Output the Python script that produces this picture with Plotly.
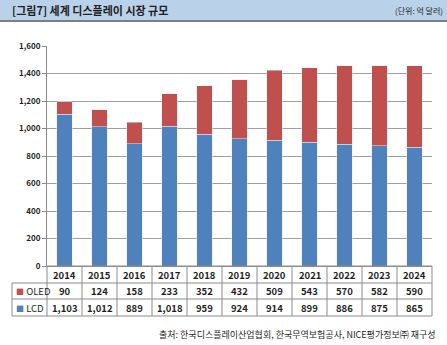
import plotly.graph_objects as go

years = ["2014", "2015", "2016", "2017", "2018", "2019", "2020", "2021", "2022", "2023", "2024"]
lcd = [1103, 1012, 889, 1018, 959, 924, 914, 899, 886, 875, 865]
oled = [90, 124, 158, 233, 352, 432, 509, 543, 570, 582, 590]
y_ticks = [0, 200, 400, 600, 800, 1000, 1200, 1400, 1600]

W, H = 447, 345
ML, MR, MT, MB = 47, 15, 46, 79
PW, PH = W - ML - MR, H - MT - MB
FONT = "Noto Sans CJK KR"
BLUE = "#4f81bd"
RED = "#c0504d"
n = len(years)

def px_x(p):
    return (p - ML) / PW

def px_y(p):
    return 1 - (p - MT) / PH

fig = go.Figure()
fig.add_bar(x=years, y=lcd, name="LCD", marker_color=BLUE, width=0.43)
fig.add_bar(x=years, y=oled, name="OLED", marker_color=RED, width=0.43)

shapes = []
annotations = []

# title bar
shapes.append(dict(type="rect", xref="paper", yref="paper", x0=px_x(0), x1=px_x(W),
                   y0=px_y(20), y1=px_y(0), fillcolor="#bad1ea", line_width=0, layer="below"))
shapes.append(dict(type="line", xref="paper", yref="paper", x0=px_x(0), x1=px_x(W),
                   y0=px_y(21), y1=px_y(21), line=dict(color="#7f7f7f", width=2)))
annotations.append(dict(xref="paper", yref="paper", x=px_x(10), y=px_y(10), xanchor="left", yanchor="middle",
                        text="<b>[그림7] 세계 디스플레이 시장 규모</b>", showarrow=False,
                        font=dict(family=FONT, size=11, color="#1f1f1f")))
annotations.append(dict(xref="paper", yref="paper", x=px_x(445), y=px_y(11), xanchor="right", yanchor="middle",
                        text="(단위: 억 달러)", showarrow=False,
                        font=dict(family=FONT, size=8, color="#1f1f1f")))

# data table (paper coordinates)
row_tops = [266, 283, 299, 316]
LBL_L = 12
tcol = "#8c8c8c"
shapes.append(dict(type="line", xref="paper", yref="paper", x0=0, x1=1,
                   y0=px_y(row_tops[0]), y1=px_y(row_tops[0]), line=dict(color=tcol, width=1)))
for r in row_tops[1:]:
    shapes.append(dict(type="line", xref="paper", yref="paper", x0=px_x(LBL_L), x1=1,
                       y0=px_y(r), y1=px_y(r), line=dict(color=tcol, width=1)))
for i in range(n + 1):
    xv = i / n
    shapes.append(dict(type="line", xref="paper", yref="paper", x0=xv, x1=xv,
                       y0=px_y(row_tops[0]), y1=px_y(row_tops[-1]), line=dict(color=tcol, width=1)))
shapes.append(dict(type="line", xref="paper", yref="paper", x0=px_x(LBL_L), x1=px_x(LBL_L),
                   y0=px_y(row_tops[1]), y1=px_y(row_tops[-1]), line=dict(color=tcol, width=1)))

tfont = dict(family=FONT, size=9.5, color="#1f1f1f")
cy = [(row_tops[k] + row_tops[k + 1]) / 2 for k in range(3)]
for i, yr in enumerate(years):
    xc = (i + 0.5) / n
    for k, txt in enumerate([yr, f"{oled[i]:,}", f"{lcd[i]:,}"]):
        annotations.append(dict(xref="paper", yref="paper", x=xc, y=px_y(cy[k]), text=f"<b>{txt}</b>",
                                showarrow=False, font=tfont, yanchor="middle", xanchor="center"))
annotations.append(dict(xref="paper", yref="paper", x=px_x(LBL_L + 2), y=px_y(cy[1]), xanchor="left", yanchor="middle",
                        text=f"<span style='color:{RED};font-size:8px'>■</span> OLED", showarrow=False,
                        font=dict(family=FONT, size=9.5, color="#1f1f1f")))
annotations.append(dict(xref="paper", yref="paper", x=px_x(LBL_L + 2), y=px_y(cy[2]), xanchor="left", yanchor="middle",
                        text=f"<span style='color:{BLUE};font-size:8px'>■</span> LCD", showarrow=False,
                        font=dict(family=FONT, size=9.5, color="#1f1f1f")))

# source
annotations.append(dict(xref="paper", yref="paper", x=px_x(438), y=px_y(334), xanchor="right", yanchor="middle",
                        text="출처: 한국디스플레이산업협회, 한국무역보험공사, NICE평가정보㈜ 재구성",
                        showarrow=False, font=dict(family=FONT, size=9, color="#1f1f1f")))

fig.update_layout(
    width=W, height=H,
    margin=dict(l=ML, r=MR, t=MT, b=MB),
    barmode="stack",
    showlegend=False,
    plot_bgcolor="white", paper_bgcolor="white",
    shapes=shapes, annotations=annotations,
    font=dict(family=FONT),
)
fig.update_xaxes(range=[-0.5, n - 0.5], showticklabels=False, showgrid=False,
                 showline=True, linecolor="#8c8c8c", linewidth=1, ticks="")
fig.update_yaxes(range=[0, 1600], tickvals=y_ticks, ticktext=[f"<b>{v:,}</b>" for v in y_ticks],
                 showgrid=True, gridcolor="#a0a0a0", gridwidth=1,
                 showline=True, linecolor="#8c8c8c", linewidth=1,
                 ticks="outside", ticklen=4, tickcolor="#8c8c8c",
                 tickfont=dict(family=FONT, size=8, color="#1f1f1f"), zeroline=False)

fig.write_html("out.html")
